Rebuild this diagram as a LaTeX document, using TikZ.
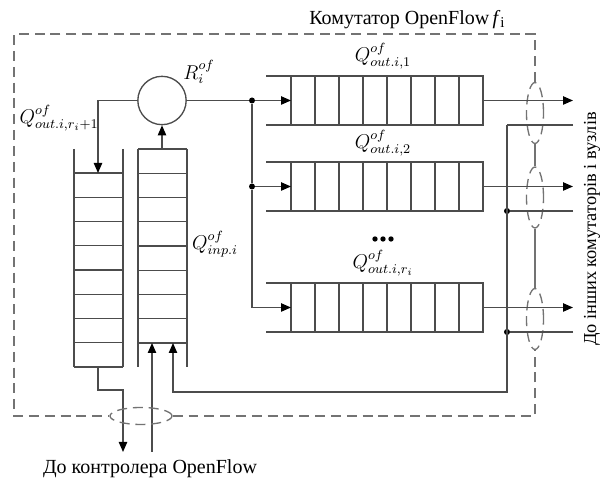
\documentclass[tikz,border=0pt]{standalone}
\usepackage{fontspec}
\setmainfont{Liberation Serif}
\usetikzlibrary{arrows.meta,shapes.geometric}
\tikzset{
  wire/.style={draw=black!70, line width=0.8pt},
  flow/.style={wire, -{Triangle[length=6pt,width=5pt,color=black]}},
  frame/.style={draw=black!55, line width=0.8pt, dash pattern=on 6pt off 3.5pt},
  junct/.style={circle, fill=black, inner sep=0pt, minimum size=3.6pt},
  bundle/.style={ellipse, frame, inner sep=0pt, minimum width=10.2pt, minimum height=36.6pt},
}
\begin{document}
\begin{tikzpicture}[x=0.6pt,y=-0.6pt,font=\fontsize{12}{14}\selectfont]
  \useasboundingbox (0,0) rectangle (601,481);
  % router
  \node[circle, wire, minimum size=29pt, inner sep=0pt] (R) at (162,100.5) {};
  \node at (199,72) {$R_i^{of}$};
  % output queues
  \foreach \t/\c [count=\k] in {76/113,162/197.5,283/319} {
    \draw[wire] (266,\t) -- (483,\t) -- (483,\t+49) -- (266,\t+49);
    \foreach \j in {0,...,7} \draw[wire] (291+24*\j,\t) -- ++(0,49);
    \coordinate (in\k) at (291,\t+24.5);
    \coordinate (out\k) at (483,\t+24.5);
    \coordinate (to\k) at (573,\t+24.5);
    \coordinate (ret\k) at (573,\t+49);
    \node[bundle] (e\k) at (535,\c) {};
    \draw[flow] (out\k) -- (to\k);
  }
  \node at (383,56) {$Q^{of}_{out.i,1}$};
  \node at (383,143) {$Q^{of}_{out.i,2}$};
  \node at (383,263) {$Q^{of}_{out.i,r_i}$};
  \foreach \x in {375,383,391} \fill (\x,239) circle (1.6pt);
  % fan-out from the router
  \node[junct] (j1) at (252,100.5) {};
  \node[junct] (j2) at (252,186.5) {};
  \draw[wire] (R.east) -- (j1) -- (j2);
  \draw[flow] (j1) -- (in1);
  \draw[flow] (j2) -- (in2);
  \draw[flow] (j2) |- (in3);
  % queue to controller
  \foreach \j in {0,...,8} \draw[wire] (74,173+24.25*\j) -- (123,173+24.25*\j);
  \draw[wire] (74,149) -- (74,367);
  \draw[wire] (123,149) -- (123,367);
  \node at (59,118) {$Q^{of}_{out.i,r_i+1}$};
  % input queue
  \foreach \j in {0,...,8} \draw[wire] (138,149+24.25*\j) -- (187,149+24.25*\j);
  \draw[wire] (138,149) -- (138,367);
  \draw[wire] (187,149) -- (187,367);
  \node at (215,244) {$Q^{of}_{inp.i}$};
  \coordinate (lq) at (98,173);
  \coordinate (lqb) at (98,367);
  \coordinate (iq) at (162,149);
  \coordinate (iqb) at (152,343);
  \coordinate (fb) at (173,343);
  \coordinate (ctlout) at (123,452);
  \coordinate (ctlin) at (152,452);
  \draw[flow] (R.west) -| (lq);
  \draw[flow] (iq) -- (R.south);
  \draw[flow] (lqb) -- ++(0,23) -| (ctlout);
  \draw[flow] (ctlin) -- (iqb);
  % return bus from other switches
  \coordinate (k1) at (507,125);
  \node[junct] (k2) at (507,211) {};
  \node[junct] (k3) at (507,332) {};
  \coordinate (k4) at (507,392);
  \draw[wire] (ret1) -- (k1);
  \draw[wire] (ret2) -- (k2);
  \draw[wire] (ret3) -- (k3);
  \draw[flow] (k1) -- (k4) -| (fb);
  % switch boundary
  \node[bundle, minimum width=37.2pt, minimum height=10.2pt] (ec) at (141,416) {};
  \coordinate (tl) at (14,34);
  \draw[frame] (e1.north) |- (tl) |- (ec.west);
  \draw[frame] (ec.east) -| (e3.south);
  \draw[draw=black!55, line width=0.8pt] (e1.south) -- (e2.north) (e2.south) -- (e3.north);
  % labels
  \node at (407,20) {Комутатор OpenFlow\,\textit{f}\raisebox{-0.3ex}{\small i}};
  \node at (150,469) {До контролера OpenFlow};
  \node[rotate=90, font=\fontsize{11}{13}\selectfont] at (592,229) {До інших комутаторів і вузлів};
\end{tikzpicture}
\end{document}
